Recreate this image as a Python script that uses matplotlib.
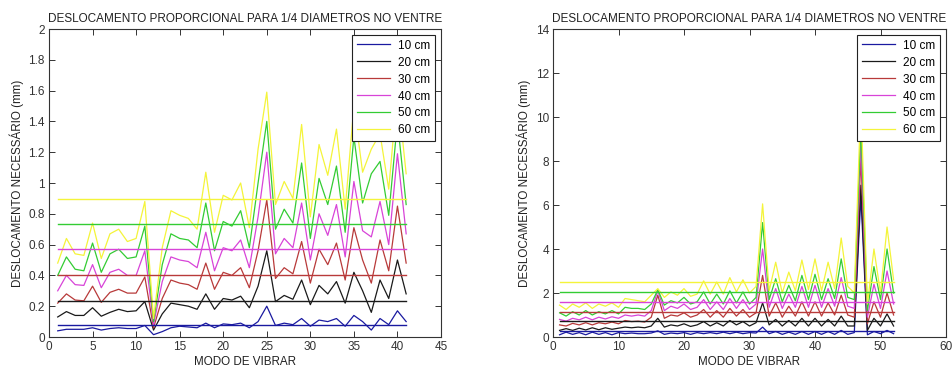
import numpy as np
import matplotlib
matplotlib.use("Agg")
import matplotlib.pyplot as plt

plt.rcParams['font.family'] = ['Liberation Sans', 'DejaVu Sans']

# rotulos
titulo = "DESLOCAMENTO PROPORCIONAL PARA 1/4 DIAMETROS NO VENTRE"
rotulo_x = "MODO DE VIBRAR"
rotulo_y = "DESLOCAMENTO NECESSÁRIO (mm)"
legendas = ["10 cm", "20 cm", "30 cm", "40 cm", "50 cm", "60 cm"]
cores = ["#1a1aa0", "#1a1a1a", "#b83a3a", "#d844d8", "#33cc33", "#f4f43a"]

# grafico da esquerda (modos 1..41)
modos_esq = np.arange(1, 42)
esq_10 = [0.04, 0.05, 0.05, 0.05, 0.06, 0.045, 0.055, 0.06, 0.055, 0.055,
          0.075, 0.015, 0.035, 0.06, 0.07, 0.065, 0.06, 0.09, 0.06, 0.085,
          0.08, 0.09, 0.06, 0.10, 0.20, 0.075, 0.09, 0.08, 0.12, 0.07,
          0.11, 0.10, 0.12, 0.07, 0.14, 0.10, 0.045, 0.12, 0.08, 0.17, 0.10]
esq_20 = [0.13, 0.165, 0.14, 0.14, 0.19, 0.135, 0.16, 0.18, 0.165, 0.17,
          0.23, 0.045, 0.15, 0.22, 0.21, 0.20, 0.18, 0.28, 0.18, 0.25,
          0.24, 0.265, 0.19, 0.33, 0.56, 0.23, 0.27, 0.245, 0.37, 0.21,
          0.335, 0.28, 0.36, 0.22, 0.42, 0.30, 0.16, 0.37, 0.25, 0.50, 0.28]
esq_30 = [0.22, 0.28, 0.24, 0.235, 0.33, 0.225, 0.29, 0.31, 0.285, 0.285,
          0.39, 0.06, 0.25, 0.37, 0.35, 0.34, 0.31, 0.48, 0.31, 0.42,
          0.40, 0.45, 0.32, 0.56, 0.89, 0.38, 0.45, 0.41, 0.62, 0.35,
          0.57, 0.47, 0.61, 0.37, 0.71, 0.50, 0.35, 0.63, 0.43, 0.85, 0.48]
esq_40 = [0.30, 0.40, 0.34, 0.335, 0.47, 0.32, 0.42, 0.44, 0.40, 0.40,
          0.56, 0.08, 0.36, 0.52, 0.50, 0.49, 0.45, 0.68, 0.43, 0.58,
          0.56, 0.63, 0.45, 0.78, 1.20, 0.54, 0.64, 0.58, 0.87, 0.50,
          0.80, 0.66, 0.86, 0.52, 1.01, 0.69, 0.65, 0.88, 0.60, 1.19, 0.67]
esq_50 = [0.40, 0.52, 0.44, 0.43, 0.61, 0.42, 0.54, 0.57, 0.51, 0.52,
          0.72, 0.10, 0.47, 0.67, 0.64, 0.63, 0.58, 0.87, 0.56, 0.75,
          0.72, 0.82, 0.58, 1.00, 1.40, 0.70, 0.83, 0.74, 1.13, 0.64,
          1.03, 0.86, 1.11, 0.68, 1.30, 0.87, 1.06, 1.14, 0.79, 1.40, 0.86]
esq_60 = [0.48, 0.64, 0.54, 0.53, 0.74, 0.51, 0.67, 0.70, 0.62, 0.64,
          0.88, 0.12, 0.58, 0.82, 0.79, 0.77, 0.70, 1.07, 0.68, 0.92,
          0.89, 1.00, 0.71, 1.22, 1.59, 0.86, 1.01, 0.90, 1.38, 0.78,
          1.25, 1.05, 1.35, 0.83, 1.50, 1.07, 1.22, 1.32, 0.96, 1.60, 1.06]
media_esq = [0.075, 0.235, 0.40, 0.57, 0.735, 0.895]

# grafico da direita (modos 1..52)
modos_dir = np.arange(1, 53)
dir_10 = [0.10, 0.22, 0.12, 0.20, 0.10, 0.22, 0.12, 0.20, 0.10, 0.20,
          0.15, 0.18, 0.15, 0.15, 0.18, 0.28, 0.12, 0.18, 0.15, 0.20,
          0.12, 0.20, 0.15, 0.20, 0.15, 0.22, 0.15, 0.22, 0.15, 0.20,
          0.18, 0.45, 0.15, 0.25, 0.12, 0.22, 0.12, 0.25, 0.12, 0.25,
          0.12, 0.25, 0.12, 0.30, 0.12, 0.20, 6.40, 0.10, 0.25, 0.15,
          0.30, 0.15]
dir_20 = [0.30, 0.38, 0.30, 0.40, 0.32, 0.42, 0.33, 0.42, 0.35, 0.40,
          0.45, 0.42, 0.45, 0.42, 0.50, 0.85, 0.45, 0.55, 0.50, 0.60,
          0.48, 0.55, 0.70, 0.50, 0.65, 0.50, 0.75, 0.55, 0.70, 0.50,
          0.65, 1.55, 0.55, 0.80, 0.50, 0.75, 0.50, 0.85, 0.50, 0.85,
          0.50, 0.80, 0.50, 0.95, 0.50, 0.50, 6.90, 0.30, 0.85, 0.50,
          1.05, 0.50]
dir_30 = [0.55, 0.50, 0.62, 0.55, 0.65, 0.55, 0.65, 0.60, 0.68, 0.60,
          0.75, 0.70, 0.72, 0.68, 0.90, 1.90, 0.85, 1.00, 0.95, 1.10,
          0.90, 1.00, 1.25, 0.90, 1.20, 0.90, 1.30, 0.95, 1.25, 0.90,
          1.10, 2.80, 0.95, 1.55, 0.90, 1.40, 0.95, 1.60, 0.95, 1.60,
          0.95, 1.55, 1.00, 1.90, 1.00, 0.90, 8.10, 0.60, 1.60, 0.90,
          2.00, 1.00]
dir_40 = [0.80, 0.72, 0.85, 0.78, 0.90, 0.78, 0.90, 0.82, 0.92, 0.85,
          1.00, 0.95, 1.00, 0.95, 1.20, 2.10, 1.20, 1.40, 1.30, 1.50,
          1.25, 1.35, 1.70, 1.25, 1.60, 1.25, 1.75, 1.30, 1.70, 1.25,
          1.50, 4.00, 1.35, 2.20, 1.30, 1.95, 1.35, 2.30, 1.35, 2.35,
          1.35, 2.20, 1.40, 2.70, 1.40, 1.30, 8.80, 0.90, 2.40, 1.30,
          3.00, 1.50]
dir_50 = [1.10, 0.95, 1.15, 1.00, 1.20, 1.00, 1.15, 1.05, 1.20, 1.05,
          1.35, 1.30, 1.30, 1.25, 1.50, 2.15, 1.45, 1.65, 1.55, 1.80,
          1.50, 1.60, 2.05, 1.50, 1.95, 1.50, 2.10, 1.55, 2.05, 1.50,
          1.80, 5.20, 1.70, 2.65, 1.60, 2.35, 1.65, 2.80, 1.70, 2.85,
          1.70, 2.65, 1.75, 3.55, 1.80, 1.70, 9.60, 1.20, 3.20, 1.70,
          4.00, 2.00]
dir_60 = [1.45, 1.25, 1.50, 1.35, 1.55, 1.30, 1.50, 1.40, 1.55, 1.35,
          1.75, 1.70, 1.65, 1.60, 1.90, 2.20, 1.80, 2.05, 1.90, 2.20,
          1.85, 1.95, 2.55, 1.95, 2.50, 1.95, 2.70, 2.05, 2.60, 2.00,
          2.30, 6.05, 2.10, 3.40, 2.00, 2.95, 2.10, 3.50, 2.15, 3.55,
          2.10, 3.40, 2.20, 4.50, 2.30, 2.00, 10.80, 1.50, 4.00, 2.00,
          5.00, 2.60]
media_dir = [0.26, 0.71, 1.12, 1.59, 2.03, 2.48]

series_esq = [esq_10, esq_20, esq_30, esq_40, esq_50, esq_60]
series_dir = [dir_10, dir_20, dir_30, dir_40, dir_50, dir_60]

fig = plt.figure(figsize=(9.52, 3.74), dpi=100)
ax1 = fig.add_axes([49 / 952, 37 / 374, 392 / 952, 308 / 374])
ax2 = fig.add_axes([553 / 952, 37 / 374, 393 / 952, 308 / 374])


def desenha(ax, modos, series, medias, xlim, ylim, xticks, yticks):
    for s, cor, lab in zip(series, cores, legendas):
        ax.plot(modos, s, color=cor, lw=0.9, label=lab)
    for m, cor in zip(medias, cores):
        ax.plot([modos[0], modos[-1]], [m, m], color=cor, lw=1.0)
    ax.set_xlim(*xlim)
    ax.set_ylim(*ylim)
    ax.set_xticks(xticks)
    ax.set_yticks(yticks)
    ax.set_yticklabels(['%g' % v for v in yticks])
    ax.tick_params(direction='in', top=True, right=True, length=4,
                   width=0.7, labelsize=8.5, colors='#333333', pad=3)
    for sp in ax.spines.values():
        sp.set_color('#333333')
        sp.set_linewidth(0.8)
    ax.set_title(titulo, fontsize=8.5, color='#222222', pad=5)
    ax.set_xlabel(rotulo_x, fontsize=8.4, color='#222222', labelpad=2)
    ax.set_ylabel(rotulo_y, fontsize=8.4, color='#222222', labelpad=3)
    leg = ax.legend(loc='upper right', fontsize=8.5, handlelength=2.8,
                    labelspacing=0.42, borderaxespad=0.5, fancybox=False,
                    framealpha=1, borderpad=0.4, handletextpad=0.7)
    leg.get_frame().set_edgecolor('#222222')
    leg.get_frame().set_linewidth(0.8)


desenha(ax1, modos_esq, series_esq, media_esq, (0, 45), (0, 2),
        np.arange(0, 46, 5), np.round(np.arange(0, 2.01, 0.2), 1))
desenha(ax2, modos_dir, series_dir, media_dir, (0, 60), (0, 14),
        np.arange(0, 61, 10), np.arange(0, 15, 2))

fig.savefig("out.png", dpi=100)
